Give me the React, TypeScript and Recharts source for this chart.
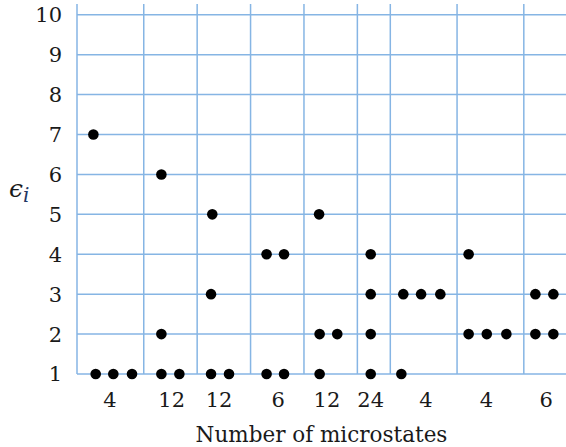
import React from 'react';
import {
  ScatterChart, Scatter, XAxis, YAxis, ReferenceLine,
} from 'recharts';

// group boundaries along x (in dot-slot units)
const GROUP_BOUNDS = [0, 3.75, 6.75, 9.75, 12.75, 15.75, 17.6, 21.35, 25.1];
const COUNT_LABELS = ['4', '12', '12', '6', '12', '24', '4', '4', '6'];
const LABEL_POS = [1.85, 5.32, 7.98, 11.3, 14.04, 16.5, 19.6, 23.0, 26.35];
const LEVELS = [1, 2, 3, 4, 5, 6, 7, 8, 9, 10];

const DOT_POS = [
  0.92, 1.05, 2.04, 3.09,
  4.74, 4.74, 4.74, 5.75,
  7.6, 7.53, 7.53, 8.54,
  10.65, 11.63, 10.65, 11.63,
  13.6, 13.63, 14.62, 13.63,
  16.5, 16.5, 16.5, 16.5,
  18.33, 19.33, 20.41, 18.22,
  22.0, 22.0, 23.02, 24.12,
  25.75, 26.76, 25.75, 26.76,
];
const DOT_LEVEL = [
  7, 1, 1, 1,
  6, 2, 1, 1,
  5, 3, 1, 1,
  4, 4, 1, 1,
  5, 2, 2, 1,
  4, 3, 2, 1,
  3, 3, 3, 1,
  4, 2, 2, 2,
  3, 3, 2, 2,
];

const dots = DOT_POS.map((x, i) => ({ x, y: DOT_LEVEL[i] }));

const GRID = '#86b5e4';
const FONT = '"DejaVu Serif", serif';

const Dot = (p: any) => <circle cx={p.cx} cy={p.cy} r={5.3} fill="#000" />;

export default function App() {
  return (
    <div style={{ width: 566, height: 447, background: '#fff' }}>
      <style>{'body{margin:0}'}</style>
      <ScatterChart width={566} height={447} margin={{ top: 4, right: 0, bottom: 0, left: 0 }}>
        <XAxis
          type="number"
          dataKey="x"
          domain={[0, 27.47]}
          ticks={LABEL_POS}
          tickFormatter={(_v: number, i: number) => COUNT_LABELS[i]}
          interval={0}
          axisLine={false}
          tickLine={false}
          tickSize={0}
          tickMargin={18}
          height={73}
          tick={{ fontSize: 21, fill: '#1a1a1a', fontFamily: FONT }}
          label={{ value: 'Number of microstates', position: 'insideBottom', offset: 5, fontSize: 21.5, fill: '#1a1a1a', fontFamily: FONT }}
        />
        <YAxis
          type="number"
          dataKey="y"
          domain={[1, 10.27]}
          ticks={LEVELS}
          interval={0}
          axisLine={false}
          tickLine={false}
          tickSize={0}
          tickMargin={15}
          width={77}
          tick={{ fontSize: 21, fill: '#1a1a1a', fontFamily: FONT }}
          label={{
            position: 'insideLeft',
            content: () => (
              <text x={9} y={197} fontFamily={FONT} fill="#1a1a1a">
                <tspan fontSize={25} fontStyle="italic">ϵ</tspan>
                <tspan fill="#1f3864" fontSize={20} fontStyle="italic" dy={5}>i</tspan>
              </text>
            ),
          }}
        />
        {LEVELS.map((l) => (
          <ReferenceLine key={'h' + l} y={l} stroke={GRID} strokeWidth={1.5} />
        ))}
        {GROUP_BOUNDS.map((b) => (
          <ReferenceLine key={'v' + b} x={b} stroke={GRID} strokeWidth={1.5} />
        ))}
        <Scatter data={dots} shape={Dot} isAnimationActive={false} />
      </ScatterChart>
    </div>
  );
}
